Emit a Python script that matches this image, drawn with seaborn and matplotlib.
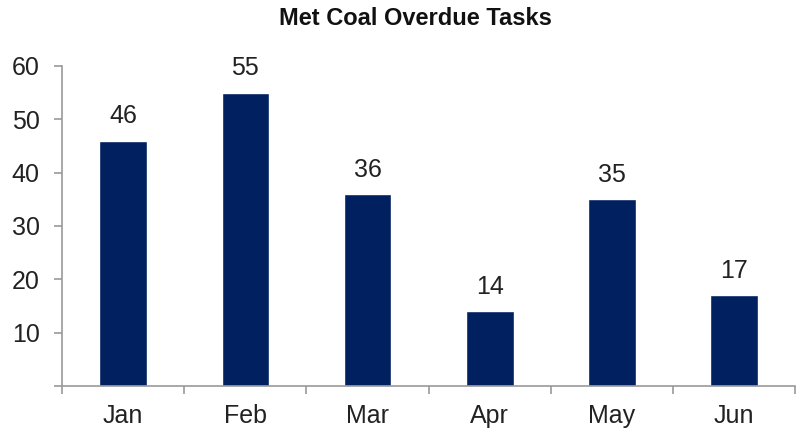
import matplotlib
matplotlib.use("Agg")
import matplotlib.pyplot as plt
import seaborn as sns
import numpy as np
import pandas as pd

months = ["Jan", "Feb", "Mar", "Apr", "May", "Jun"]
overdue = [46, 55, 36, 14, 35, 17]
y_ticks = [0, 10, 20, 30, 40, 50, 60]
y_labels = ["", "10", "20", "30", "40", "50", "60"]

sns.set_style("white")
plt.rcParams["font.family"] = ["Liberation Sans", "DejaVu Sans"]

df = pd.DataFrame({"month": months, "overdue": overdue})

fig = plt.figure(figsize=(7.96, 4.34), dpi=100)
ax = fig.add_axes([0.078, 0.111, 0.921, 0.737])

sns.barplot(data=df, x="month", y="overdue", color="#002060",
            saturation=1, width=0.39, ax=ax)

# value labels above bars
for i, v in enumerate(overdue):
    ax.text(i, v + 2.3, str(v), ha="center", va="bottom", fontsize=18, color="#222222")

ax.set_xlim(-0.5, 5.5)
ax.set_ylim(0, 60)
ax.set_yticks(y_ticks)
ax.set_yticklabels(y_labels, fontsize=18, color="#222222")
ax.set_xticks(range(len(months)))
ax.set_xticklabels(months, fontsize=18, color="#222222")
ax.set_xticks(np.arange(-0.5, len(months)), minor=True)
ax.tick_params(axis="x", which="major", bottom=True, length=0, pad=13)
ax.tick_params(axis="x", which="minor", bottom=True, length=6, width=1.2,
               color="#999999", direction="out")
ax.tick_params(axis="y", left=True, length=6, width=1.2, color="#999999",
               direction="out", pad=10)
ax.set_xlabel("")
ax.set_ylabel("")

for s in ["top", "right"]:
    ax.spines[s].set_visible(False)
for s in ["left", "bottom"]:
    ax.spines[s].set_color("#999999")
    ax.spines[s].set_linewidth(1.2)

fig.text(0.522, 0.958, "Met Coal Overdue Tasks", ha="center", va="center",
         fontsize=17, fontweight="bold", color="#111111")

fig.savefig("out.png", dpi=100)
